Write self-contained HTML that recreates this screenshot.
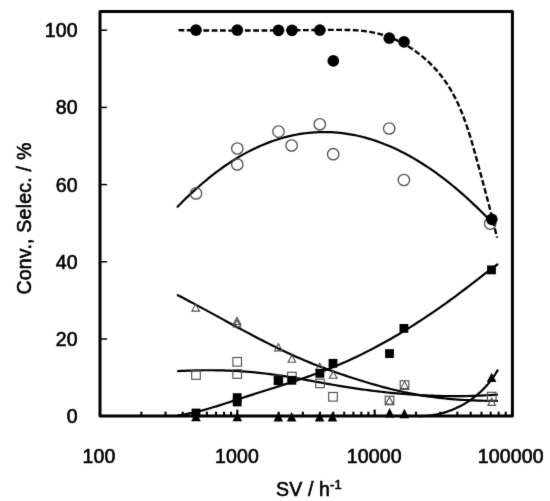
<!DOCTYPE html>
<html><head><meta charset="utf-8"><style>
html,body{margin:0;padding:0;background:#fff;}
svg{display:block;will-change:transform;}
text{font-family:"Liberation Sans",sans-serif;font-size:19.5px;fill:#000;letter-spacing:0.15px;stroke:#000;stroke-width:0.6px;}
</style></head><body>
<svg width="550" height="501" viewBox="0 0 550 501">
<defs><filter id="soft" x="0" y="0" width="550" height="501" filterUnits="userSpaceOnUse" color-interpolation-filters="sRGB"><feConvolveMatrix order="3" kernelMatrix="0.0081 0.0738 0.0081 0.0738 0.6724 0.0738 0.0081 0.0738 0.0081" edgeMode="duplicate"/></filter></defs>
<g filter="url(#soft)">
<rect width="550" height="501" fill="#fff"/>
<line x1="141.34" y1="411.7" x2="141.34" y2="416" stroke="#000" stroke-width="2.1"/><line x1="165.52" y1="411.7" x2="165.52" y2="416" stroke="#000" stroke-width="2.1"/><line x1="182.68" y1="411.7" x2="182.68" y2="416" stroke="#000" stroke-width="2.1"/><line x1="195.99" y1="411.7" x2="195.99" y2="416" stroke="#000" stroke-width="2.1"/><line x1="206.86" y1="411.7" x2="206.86" y2="416" stroke="#000" stroke-width="2.1"/><line x1="216.06" y1="411.7" x2="216.06" y2="416" stroke="#000" stroke-width="2.1"/><line x1="224.02" y1="411.7" x2="224.02" y2="416" stroke="#000" stroke-width="2.1"/><line x1="231.05" y1="411.7" x2="231.05" y2="416" stroke="#000" stroke-width="2.1"/><line x1="278.67" y1="411.7" x2="278.67" y2="416" stroke="#000" stroke-width="2.1"/><line x1="302.85" y1="411.7" x2="302.85" y2="416" stroke="#000" stroke-width="2.1"/><line x1="320.01" y1="411.7" x2="320.01" y2="416" stroke="#000" stroke-width="2.1"/><line x1="333.32" y1="411.7" x2="333.32" y2="416" stroke="#000" stroke-width="2.1"/><line x1="344.19" y1="411.7" x2="344.19" y2="416" stroke="#000" stroke-width="2.1"/><line x1="353.39" y1="411.7" x2="353.39" y2="416" stroke="#000" stroke-width="2.1"/><line x1="361.35" y1="411.7" x2="361.35" y2="416" stroke="#000" stroke-width="2.1"/><line x1="368.38" y1="411.7" x2="368.38" y2="416" stroke="#000" stroke-width="2.1"/><line x1="416" y1="411.7" x2="416" y2="416" stroke="#000" stroke-width="2.1"/><line x1="440.18" y1="411.7" x2="440.18" y2="416" stroke="#000" stroke-width="2.1"/><line x1="457.34" y1="411.7" x2="457.34" y2="416" stroke="#000" stroke-width="2.1"/><line x1="470.65" y1="411.7" x2="470.65" y2="416" stroke="#000" stroke-width="2.1"/><line x1="481.52" y1="411.7" x2="481.52" y2="416" stroke="#000" stroke-width="2.1"/><line x1="490.72" y1="411.7" x2="490.72" y2="416" stroke="#000" stroke-width="2.1"/><line x1="498.68" y1="411.7" x2="498.68" y2="416" stroke="#000" stroke-width="2.1"/><line x1="505.71" y1="411.7" x2="505.71" y2="416" stroke="#000" stroke-width="2.1"/><line x1="237.33" y1="409.6" x2="237.33" y2="416" stroke="#000" stroke-width="2.1"/><line x1="374.66" y1="409.6" x2="374.66" y2="416" stroke="#000" stroke-width="2.1"/><line x1="100" y1="339" x2="107" y2="339" stroke="#000" stroke-width="1.5"/><line x1="100" y1="261.8" x2="107" y2="261.8" stroke="#000" stroke-width="1.5"/><line x1="100" y1="184.6" x2="107" y2="184.6" stroke="#000" stroke-width="1.5"/><line x1="100" y1="107.4" x2="107" y2="107.4" stroke="#000" stroke-width="1.5"/><line x1="100" y1="30.2" x2="107" y2="30.2" stroke="#000" stroke-width="1.5"/>
<path d="M178.5,30.13 L181.18,30.18 L183.87,30.23 L186.57,30.27 L189.29,30.31 L192.01,30.35 L194.75,30.38 L197.5,30.41 L200.26,30.44 L203.02,30.47 L205.8,30.49 L208.59,30.51 L211.38,30.53 L214.19,30.54 L217,30.55 L219.82,30.56 L222.65,30.57 L225.48,30.57 L228.32,30.58 L231.17,30.58 L234.02,30.58 L236.88,30.57 L239.75,30.57 L242.62,30.56 L245.49,30.55 L248.37,30.54 L251.25,30.53 L254.13,30.52 L257.02,30.51 L259.91,30.49 L262.81,30.47 L265.7,30.45 L268.6,30.44 L271.5,30.42 L274.4,30.39 L277.3,30.37 L280.2,30.35 L283.1,30.33 L286,30.3 L288.9,30.28 L291.8,30.25 L294.69,30.23 L297.59,30.2 L300.48,30.17 L303.37,30.15 L306.26,30.12 L309.14,30.09 L312.02,30.07 L314.9,30.04 L317.77,30.01 L320.64,29.99 L323.5,29.96 L326.36,29.94 L329.21,29.91 L332.06,29.89 L334.9,29.87 L337.73,29.86 L340.55,29.86 L343.37,29.89 L346.18,29.93 L348.98,30 L351.77,30.1 L354.56,30.24 L357.33,30.42 L360.1,30.65 L362.85,30.92 L365.6,31.25 L368.33,31.64 L371.05,32.09 L373.77,32.61 L376.47,33.2 L379.15,33.86 L381.83,34.61 L384.49,35.43 L387.13,36.33 L389.76,37.3 L392.36,38.34 L394.95,39.46 L397.51,40.64 L400.05,41.89 L402.56,43.2 L405.04,44.58 L407.5,46.02 L409.92,47.52 L412.31,49.07 L414.67,50.69 L416.99,52.36 L419.27,54.08 L421.51,55.86 L423.71,57.68 L425.87,59.56 L427.99,61.48 L430.06,63.44 L432.08,65.45 L434.05,67.5 L435.97,69.59 L437.84,71.72 L439.66,73.89 L441.42,76.09 L443.12,78.32 L444.76,80.59 L446.36,82.89 L447.89,85.22 L449.38,87.58 L450.82,89.96 L452.21,92.38 L453.55,94.82 L454.85,97.28 L456.11,99.77 L457.32,102.29 L458.5,104.83 L459.64,107.39 L460.74,109.97 L461.81,112.57 L462.85,115.19 L463.86,117.83 L464.84,120.48 L465.8,123.16 L466.73,125.84 L467.63,128.55 L468.52,131.26 L469.38,133.99 L470.23,136.73 L471.06,139.48 L471.87,142.24 L472.68,145.01 L473.47,147.79 L474.25,150.57 L475.03,153.37 L475.8,156.16 L476.57,158.96 L477.33,161.77 L478.1,164.57 L478.86,167.38 L479.63,170.19 L480.39,172.99 L481.15,175.8 L481.91,178.6 L482.66,181.41 L483.41,184.2 L484.16,186.99 L484.9,189.78 L485.64,192.56 L486.38,195.33 L487.11,198.09 L487.83,200.84 L488.55,203.58 L489.25,206.31 L489.96,209.03 L490.65,211.73 L491.34,214.42 L492.01,217.1 L492.68,219.76 L493.34,222.4 L493.99,225.02 L494.63,227.62 L495.25,230.2 L495.87,232.77 L496.47,235.31 L497.06,237.82" stroke="#000" stroke-width="2.4" fill="none" stroke-dasharray="5.8 2.5"/><path d="M177.6,206.65 L180.8,203.41 L183.99,200.25 L187.19,197.15 L190.38,194.12 L193.58,191.17 L196.78,188.28 L199.97,185.46 L203.17,182.72 L206.36,180.04 L209.56,177.44 L212.76,174.91 L215.95,172.45 L219.15,170.06 L222.34,167.75 L225.54,165.51 L228.74,163.34 L231.93,161.25 L235.13,159.23 L238.32,157.29 L241.52,155.42 L244.72,153.62 L247.91,151.9 L251.11,150.25 L254.3,148.68 L257.5,147.18 L260.69,145.75 L263.89,144.39 L267.09,143.11 L270.28,141.9 L273.48,140.76 L276.67,139.69 L279.87,138.69 L283.07,137.76 L286.26,136.9 L289.46,136.12 L292.65,135.4 L295.85,134.75 L299.05,134.18 L302.24,133.67 L305.44,133.23 L308.63,132.86 L311.83,132.56 L315.03,132.33 L318.22,132.17 L321.42,132.08 L324.61,132.05 L327.81,132.1 L331.01,132.21 L334.2,132.39 L337.4,132.64 L340.59,132.95 L343.79,133.33 L346.99,133.79 L350.18,134.3 L353.38,134.89 L356.57,135.54 L359.77,136.26 L362.97,137.05 L366.16,137.9 L369.36,138.82 L372.55,139.81 L375.75,140.86 L378.95,141.97 L382.14,143.16 L385.34,144.41 L388.53,145.72 L391.73,147.1 L394.93,148.55 L398.12,150.06 L401.32,151.64 L404.51,153.28 L407.71,154.98 L410.91,156.75 L414.1,158.58 L417.3,160.48 L420.49,162.44 L423.69,164.46 L426.88,166.55 L430.08,168.7 L433.28,170.91 L436.47,173.19 L439.67,175.53 L442.86,177.93 L446.06,180.39 L449.26,182.92 L452.45,185.51 L455.65,188.15 L458.84,190.86 L462.04,193.64 L465.24,196.47 L468.43,199.36 L471.63,202.32 L474.82,205.33 L478.02,208.41 L481.22,211.54 L484.41,214.74 L487.61,217.99 L490.8,221.31 L494,224.68" stroke="#000" stroke-width="2.2" fill="none" stroke-linecap="round"/><path d="M177.8,295.15 L181.02,296.82 L184.25,298.51 L187.47,300.21 L190.7,301.92 L193.92,303.64 L197.15,305.37 L200.37,307.11 L203.59,308.86 L206.82,310.61 L210.04,312.36 L213.27,314.12 L216.49,315.88 L219.72,317.64 L222.94,319.4 L226.16,321.16 L229.39,322.91 L232.61,324.67 L235.84,326.41 L239.06,328.16 L242.28,329.89 L245.51,331.62 L248.73,333.33 L251.96,335.04 L255.18,336.73 L258.41,338.41 L261.63,340.08 L264.85,341.73 L268.08,343.36 L271.3,344.98 L274.53,346.58 L277.75,348.16 L280.98,349.72 L284.2,351.25 L287.42,352.76 L290.65,354.25 L293.87,355.71 L297.1,357.15 L300.32,358.55 L303.55,359.93 L306.77,361.28 L309.99,362.61 L313.22,363.9 L316.44,365.18 L319.67,366.42 L322.89,367.65 L326.12,368.85 L329.34,370.03 L332.56,371.19 L335.79,372.32 L339.01,373.44 L342.24,374.54 L345.46,375.62 L348.68,376.69 L351.91,377.73 L355.13,378.77 L358.36,379.78 L361.58,380.79 L364.81,381.78 L368.03,382.75 L371.25,383.7 L374.48,384.64 L377.7,385.56 L380.93,386.45 L384.15,387.32 L387.38,388.17 L390.6,388.99 L393.82,389.78 L397.05,390.54 L400.27,391.27 L403.5,391.97 L406.72,392.65 L409.95,393.29 L413.17,393.91 L416.39,394.49 L419.62,395.05 L422.84,395.58 L426.07,396.08 L429.29,396.56 L432.52,397 L435.74,397.42 L438.96,397.81 L442.19,398.17 L445.41,398.51 L448.64,398.82 L451.86,399.1 L455.08,399.37 L458.31,399.6 L461.53,399.82 L464.76,400.01 L467.98,400.18 L471.21,400.33 L474.43,400.47 L477.65,400.58 L480.88,400.68 L484.1,400.75 L487.33,400.82 L490.55,400.86 L493.78,400.89 L497,400.91" stroke="#000" stroke-width="2.2" fill="none" stroke-linecap="round"/><path d="M178.1,371.12 L181.32,370.95 L184.54,370.79 L187.76,370.66 L190.98,370.54 L194.21,370.44 L197.43,370.36 L200.65,370.31 L203.87,370.27 L207.09,370.25 L210.31,370.25 L213.53,370.27 L216.75,370.31 L219.98,370.37 L223.2,370.46 L226.42,370.56 L229.64,370.69 L232.86,370.83 L236.08,371 L239.3,371.19 L242.52,371.4 L245.75,371.64 L248.97,371.89 L252.19,372.17 L255.41,372.47 L258.63,372.8 L261.85,373.15 L265.07,373.52 L268.29,373.91 L271.52,374.33 L274.74,374.77 L277.96,375.23 L281.18,375.71 L284.4,376.21 L287.62,376.73 L290.84,377.26 L294.06,377.8 L297.28,378.36 L300.51,378.92 L303.73,379.5 L306.95,380.07 L310.17,380.66 L313.39,381.24 L316.61,381.83 L319.83,382.42 L323.05,383 L326.28,383.58 L329.5,384.16 L332.72,384.72 L335.94,385.28 L339.16,385.83 L342.38,386.37 L345.6,386.89 L348.82,387.4 L352.05,387.9 L355.27,388.38 L358.49,388.85 L361.71,389.31 L364.93,389.76 L368.15,390.19 L371.37,390.6 L374.59,391.01 L377.82,391.39 L381.04,391.77 L384.26,392.13 L387.48,392.47 L390.7,392.81 L393.92,393.12 L397.14,393.42 L400.36,393.71 L403.58,393.98 L406.81,394.24 L410.03,394.48 L413.25,394.7 L416.47,394.91 L419.69,395.1 L422.91,395.28 L426.13,395.44 L429.35,395.59 L432.58,395.71 L435.8,395.83 L439.02,395.92 L442.24,396 L445.46,396.06 L448.68,396.11 L451.9,396.14 L455.12,396.15 L458.35,396.14 L461.57,396.11 L464.79,396.07 L468.01,396.01 L471.23,395.93 L474.45,395.84 L477.67,395.72 L480.89,395.59 L484.12,395.44 L487.34,395.27 L490.56,395.08 L493.78,394.87 L497,394.64" stroke="#000" stroke-width="2.2" fill="none" stroke-linecap="round"/><path d="M178.5,415.29 L181.72,414.81 L184.94,414.27 L188.16,413.66 L191.38,413 L194.6,412.28 L197.82,411.52 L201.04,410.7 L204.26,409.85 L207.48,408.96 L210.7,408.03 L213.92,407.07 L217.14,406.09 L220.36,405.08 L223.58,404.06 L226.8,403.02 L230.02,401.97 L233.24,400.91 L236.46,399.84 L239.68,398.78 L242.9,397.72 L246.12,396.66 L249.34,395.62 L252.56,394.59 L255.78,393.56 L259.01,392.53 L262.23,391.51 L265.45,390.5 L268.67,389.48 L271.89,388.46 L275.11,387.44 L278.33,386.42 L281.55,385.4 L284.77,384.36 L287.99,383.32 L291.21,382.27 L294.43,381.21 L297.65,380.14 L300.87,379.05 L304.09,377.95 L307.31,376.84 L310.53,375.7 L313.75,374.55 L316.97,373.38 L320.19,372.18 L323.41,370.96 L326.63,369.72 L329.85,368.45 L333.07,367.15 L336.29,365.82 L339.51,364.47 L342.73,363.08 L345.95,361.66 L349.17,360.21 L352.39,358.73 L355.61,357.22 L358.83,355.69 L362.05,354.12 L365.27,352.52 L368.49,350.89 L371.71,349.23 L374.93,347.55 L378.15,345.83 L381.37,344.08 L384.59,342.31 L387.81,340.51 L391.03,338.68 L394.25,336.82 L397.47,334.93 L400.69,333.01 L403.91,331.07 L407.13,329.1 L410.35,327.1 L413.57,325.07 L416.79,323.01 L420.02,320.93 L423.24,318.82 L426.46,316.69 L429.68,314.52 L432.9,312.33 L436.12,310.12 L439.34,307.87 L442.56,305.6 L445.78,303.31 L449,300.99 L452.22,298.64 L455.44,296.27 L458.66,293.87 L461.88,291.44 L465.1,289 L468.32,286.54 L471.54,284.07 L474.76,281.6 L477.98,279.12 L481.2,276.65 L484.42,274.19 L487.64,271.73 L490.86,269.3 L494.08,266.89 L497.3,264.5" stroke="#000" stroke-width="2.2" fill="none" stroke-linecap="round"/><path d="M417.84,416.22 L418.46,416.23 L419.09,416.22 L419.71,416.22 L420.33,416.21 L420.96,416.19 L421.58,416.18 L422.2,416.15 L422.82,416.13 L423.44,416.1 L424.06,416.06 L424.67,416.02 L425.29,415.98 L425.91,415.93 L426.52,415.88 L427.13,415.83 L427.75,415.77 L428.36,415.71 L428.97,415.64 L429.58,415.57 L430.19,415.49 L430.8,415.41 L431.4,415.33 L432.01,415.24 L432.61,415.15 L433.22,415.05 L433.82,414.95 L434.42,414.85 L435.02,414.74 L435.62,414.63 L436.22,414.52 L436.81,414.4 L437.41,414.27 L438,414.15 L438.59,414.02 L439.19,413.88 L439.78,413.74 L440.37,413.6 L440.95,413.45 L441.54,413.3 L442.12,413.15 L442.71,412.99 L443.29,412.83 L443.87,412.66 L444.45,412.49 L445.03,412.32 L445.6,412.14 L446.18,411.96 L446.75,411.78 L447.33,411.59 L447.9,411.4 L448.47,411.2 L449.03,411 L449.6,410.8 L450.16,410.59 L450.73,410.38 L451.29,410.17 L451.85,409.95 L452.41,409.73 L452.96,409.5 L453.52,409.27 L454.07,409.04 L454.62,408.8 L455.17,408.56 L455.72,408.32 L456.27,408.07 L456.81,407.82 L457.35,407.57 L457.89,407.31 L458.43,407.05 L458.97,406.79 L459.51,406.52 L460.04,406.25 L460.57,405.97 L461.1,405.69 L461.63,405.41 L462.15,405.13 L462.68,404.84 L463.2,404.54 L463.72,404.25 L464.24,403.95 L464.76,403.64 L465.27,403.34 L465.78,403.03 L466.29,402.72 L466.8,402.4 L467.31,402.08 L467.81,401.76 L468.31,401.43 L468.81,401.1 L469.31,400.77 L469.81,400.43 L470.3,400.09 L470.79,399.75 L471.28,399.4 L471.77,399.05 L472.25,398.7 L472.73,398.34 L473.21,397.98 L473.69,397.62 L474.17,397.25 L474.64,396.88 L475.11,396.51 L475.58,396.13 L476.05,395.76 L476.51,395.37 L476.97,394.99 L477.43,394.6 L477.89,394.21 L478.34,393.81 L478.79,393.42 L479.24,393.02 L479.69,392.61 L480.13,392.2 L480.58,391.79 L481.02,391.38 L481.45,390.96 L481.89,390.54 L482.32,390.12 L482.75,389.7 L483.17,389.27 L483.6,388.84 L484.02,388.4 L484.44,387.96 L484.85,387.52 L485.27,387.08 L485.68,386.63 L486.09,386.18 L486.49,385.73 L486.89,385.28 L487.29,384.82 L487.69,384.36 L488.08,383.89 L488.47,383.42 L488.86,382.95 L489.25,382.48 L489.63,382.01 L490.01,381.53 L490.39,381.05 L490.76,380.56 L491.13,380.07 L491.5,379.58 L491.87,379.09 L492.23,378.6 L492.59,378.1 L492.94,377.6 L493.3,377.09 L493.65,376.59 L494,376.08 L494.34,375.57 L494.68,375.05 L495.02,374.53 L495.35,374.01 L495.69,373.49 L496.01,372.96 L496.34,372.44 L496.66,371.9 L496.98,371.37 L497.3,370.83 L497.61,370.3" stroke="#000" stroke-width="2.2" fill="none" stroke-linecap="round"/>
<polygon points="195.7,304.1 199.5,311.1 191.9,311.1" fill="none" stroke="#505050" stroke-width="1.15"/><polygon points="237,317.5 240.8,324.5 233.2,324.5" fill="none" stroke="#505050" stroke-width="1.15"/><polygon points="237,319.9 240.8,326.9 233.2,326.9" fill="none" stroke="#505050" stroke-width="1.15"/><polygon points="278.4,343.8 282.2,350.8 274.6,350.8" fill="none" stroke="#505050" stroke-width="1.15"/><polygon points="291.9,355.2 295.7,362.2 288.1,362.2" fill="none" stroke="#505050" stroke-width="1.15"/><polygon points="319.6,363.1 323.4,370.1 315.8,370.1" fill="none" stroke="#505050" stroke-width="1.15"/><polygon points="333.2,371.2 337,378.2 329.4,378.2" fill="none" stroke="#505050" stroke-width="1.15"/><polygon points="389.5,397 393.3,404 385.7,404" fill="none" stroke="#505050" stroke-width="1.15"/><polygon points="404.5,381.6 408.3,388.6 400.7,388.6" fill="none" stroke="#505050" stroke-width="1.15"/><polygon points="491.7,398.3 495.5,405.3 487.9,405.3" fill="none" stroke="#505050" stroke-width="1.15"/><rect x="191.7" y="370.7" width="8.6" height="8.6" fill="none" stroke="#505050" stroke-width="1.15"/><rect x="232.9" y="357.5" width="8.6" height="8.6" fill="none" stroke="#505050" stroke-width="1.15"/><rect x="232.9" y="369.7" width="8.6" height="8.6" fill="none" stroke="#505050" stroke-width="1.15"/><rect x="274.1" y="376" width="8.6" height="8.6" fill="none" stroke="#505050" stroke-width="1.15"/><rect x="287.6" y="372.3" width="8.6" height="8.6" fill="none" stroke="#505050" stroke-width="1.15"/><rect x="315.7" y="379.1" width="8.6" height="8.6" fill="none" stroke="#505050" stroke-width="1.15"/><rect x="328.7" y="392.5" width="8.6" height="8.6" fill="none" stroke="#505050" stroke-width="1.15"/><rect x="385.2" y="396.2" width="8.6" height="8.6" fill="none" stroke="#505050" stroke-width="1.15"/><rect x="400.2" y="380.8" width="8.6" height="8.6" fill="none" stroke="#505050" stroke-width="1.15"/><rect x="487.4" y="392.3" width="8.6" height="8.6" fill="none" stroke="#505050" stroke-width="1.15"/><circle cx="196" cy="193.4" r="5.7" fill="none" stroke="#505050" stroke-width="1.3"/><circle cx="237.3" cy="148.5" r="5.7" fill="none" stroke="#505050" stroke-width="1.3"/><circle cx="237.3" cy="164.5" r="5.7" fill="none" stroke="#505050" stroke-width="1.3"/><circle cx="278.5" cy="131.6" r="5.7" fill="none" stroke="#505050" stroke-width="1.3"/><circle cx="291.6" cy="145.5" r="5.7" fill="none" stroke="#505050" stroke-width="1.3"/><circle cx="319.8" cy="124.3" r="5.7" fill="none" stroke="#505050" stroke-width="1.3"/><circle cx="333.2" cy="154.2" r="5.7" fill="none" stroke="#505050" stroke-width="1.3"/><circle cx="389.2" cy="128.5" r="5.7" fill="none" stroke="#505050" stroke-width="1.3"/><circle cx="403.9" cy="180" r="5.7" fill="none" stroke="#505050" stroke-width="1.3"/><circle cx="490.2" cy="223.6" r="5.7" fill="none" stroke="#505050" stroke-width="1.3"/><rect x="191.6" y="408.6" width="8.8" height="8.8" fill="#000"/><rect x="232.8" y="393.2" width="8.8" height="8.8" fill="#000"/><rect x="232.8" y="397.6" width="8.8" height="8.8" fill="#000"/><rect x="274" y="376.1" width="8.8" height="8.8" fill="#000"/><rect x="287.5" y="375.9" width="8.8" height="8.8" fill="#000"/><rect x="315.5" y="368.9" width="8.8" height="8.8" fill="#000"/><rect x="328.6" y="358.9" width="8.8" height="8.8" fill="#000"/><rect x="385.1" y="349.2" width="8.8" height="8.8" fill="#000"/><rect x="399.5" y="324" width="8.8" height="8.8" fill="#000"/><rect x="487.1" y="265.5" width="8.8" height="8.8" fill="#000"/><polygon points="196,411.9 200.8,421.3 191.2,421.3" fill="#000"/><polygon points="237.3,411.9 242.1,421.3 232.5,421.3" fill="#000"/><polygon points="278.3,412.1 283.1,421.5 273.5,421.5" fill="#000"/><polygon points="291.6,412.1 296.4,421.5 286.8,421.5" fill="#000"/><polygon points="319.6,412.1 324.4,421.5 314.8,421.5" fill="#000"/><polygon points="332.4,412.1 337.2,421.5 327.6,421.5" fill="#000"/><polygon points="389.6,408.1 394.4,417.5 384.8,417.5" fill="#000"/><polygon points="404.4,408.8 409.2,418.2 399.6,418.2" fill="#000"/><polygon points="491.6,372.7 496.4,382.1 486.8,382.1" fill="#000"/><circle cx="196" cy="30.1" r="5.85" fill="#000"/><circle cx="237.3" cy="30.1" r="5.85" fill="#000"/><circle cx="278.5" cy="30.3" r="5.85" fill="#000"/><circle cx="292" cy="30.3" r="5.85" fill="#000"/><circle cx="319.8" cy="30.2" r="5.85" fill="#000"/><circle cx="333.3" cy="60.9" r="5.85" fill="#000"/><circle cx="389.3" cy="38.2" r="5.85" fill="#000"/><circle cx="404" cy="41.8" r="5.85" fill="#000"/><circle cx="491.8" cy="219.3" r="5.85" fill="#000"/>
<rect x="100" y="11.4" width="412.4" height="404.7" fill="none" stroke="#000" stroke-width="3" stroke-linejoin="round"/>
<text x="77.8" y="423.2" text-anchor="end">0</text><text x="77.8" y="346" text-anchor="end">20</text><text x="77.8" y="268.8" text-anchor="end">40</text><text x="77.8" y="191.6" text-anchor="end">60</text><text x="77.8" y="114.4" text-anchor="end">80</text><text x="77.8" y="37.2" text-anchor="end">100</text>
<text x="99.1" y="463" text-anchor="middle">100</text><text x="236.9" y="463" text-anchor="middle">1000</text><text x="374.2" y="463" text-anchor="middle">10000</text><text x="510.8" y="463" text-anchor="middle">100000</text>
<text x="309" y="496.2" text-anchor="middle">SV / h<tspan dy="-7" font-size="13">-1</tspan></text>
<text transform="translate(30.8,218.6) rotate(-90)" text-anchor="middle" textLength="152" lengthAdjust="spacing">Conv., Selec. / %</text>
</g>
</svg>
</body></html>
